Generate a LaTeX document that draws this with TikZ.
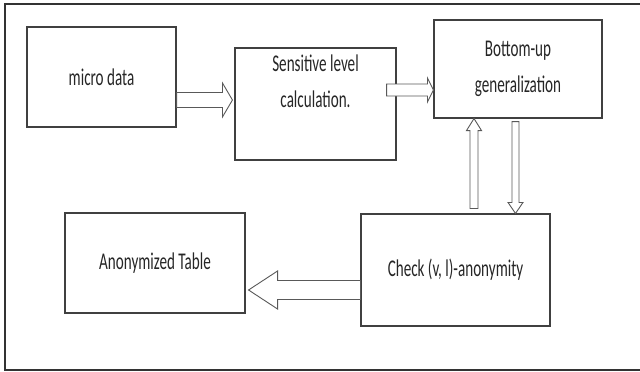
\documentclass[tikz,border=0pt]{standalone}
\usepackage{fontspec}
\setmainfont{Carlito}[FakeStretch=0.63]
\usepackage{tikz}
\usetikzlibrary{calc}
\usetikzlibrary{positioning}
\definecolor{myboxcolor}{rgb}{0.25,0.25,0.25}
\definecolor{myarrowcolor}{rgb}{0.35,0.35,0.35}
\definecolor{mytextcolor}{rgb}{0.15,0.15,0.15}

\begin{document}
\begin{tikzpicture}[x=1pt,y=-1pt,
  box/.style={draw=myboxcolor, text=mytextcolor, line width=1.1pt, inner sep=0pt},
  boxtext/.style={text=mytextcolor, align=center, inner sep=0pt, anchor=north},
  hollow/.style={draw=myarrowcolor, fill=white, line width=0.9pt, line join=miter}]
\fontsize{24}{36}\selectfont
\useasboundingbox (0,0) rectangle (640,372);
\draw[line width=1.5pt, draw=black!80] (640,4) -- (5,4) -- (5,370) -- (640,370);
\node[box, minimum width=149, minimum height=100] (micro) at (101.5,77) {micro data};
\node[box, minimum width=161, minimum height=112] (sens) at (315.5,104) {};
\node[boxtext] (senstext) at (315.5,55) {Sensitive level\\calculation.};
\node[box, minimum width=168, minimum height=98] (bottomup) at (518,69) {};
\node[boxtext] (bottomuptext) at (518,41) {Bottom-up\\generalization};
\node[box, minimum width=180, minimum height=100] (anon) at (155,263) {Anonymized Table};
\node[box, minimum width=189, minimum height=112] (check) at (455.5,270) {Check (v, l)-anonymity};
\coordinate (a1s) at (micro.east |- 0,100);
\coordinate (a1e) at ($(sens.west |- 0,100)+(-2,0)$);
\draw[hollow] ($(a1s)+(0,-7.5)$) -- ($(a1e)+(-10,-7.5)$) -- ($(a1e)+(-10,-17)$) -- (a1e) -- ($(a1e)+(-10,17)$) -- ($(a1e)+(-10,7.5)$) -- ($(a1s)+(0,7.5)$) -- cycle;
\coordinate (a2s) at ($(sens.east |- 0,90)+(-10,0)$);
\coordinate (a2e) at (bottomup.west |- 0,90);
\draw[hollow] ($(a2s)+(0,-6)$) -- ($(a2e)+(-6,-6)$) -- ($(a2e)+(-6,-12)$) -- (a2e) -- ($(a2e)+(-6,12)$) -- ($(a2e)+(-6,6)$) -- ($(a2s)+(0,6)$) -- cycle;
\coordinate (a3s) at ($(474,0 |- check.north)+(0,-5)$);
\coordinate (a3e) at (474,0 |- bottomup.south);
\draw[hollow] ($(a3s)+(-4,0)$) -- ($(a3e)+(-4,12)$) -- ($(a3e)+(-7.5,12)$) -- (a3e) -- ($(a3e)+(7.5,12)$) -- ($(a3e)+(4,12)$) -- ($(a3s)+(4,0)$) -- cycle;
\coordinate (a4s) at ($(515.5,0 |- bottomup.south)+(0,3)$);
\coordinate (a4e) at (515.5,0 |- check.north);
\draw[hollow] ($(a4s)+(-3.5,0)$) -- ($(a4e)+(-3.5,-11)$) -- ($(a4e)+(-7.5,-11)$) -- (a4e) -- ($(a4e)+(7.5,-11)$) -- ($(a4e)+(3.5,-11)$) -- ($(a4s)+(3.5,0)$) -- cycle;
\coordinate (a5s) at (check.west |- 0,290);
\coordinate (a5e) at ($(anon.east |- 0,290)+(3,0)$);
\draw[hollow] ($(a5s)+(0,-9.5)$) -- ($(a5e)+(29,-9.5)$) -- ($(a5e)+(29,-19)$) -- (a5e) -- ($(a5e)+(29,19)$) -- ($(a5e)+(29,9.5)$) -- ($(a5s)+(0,9.5)$) -- cycle;
\end{tikzpicture}
\end{document}
